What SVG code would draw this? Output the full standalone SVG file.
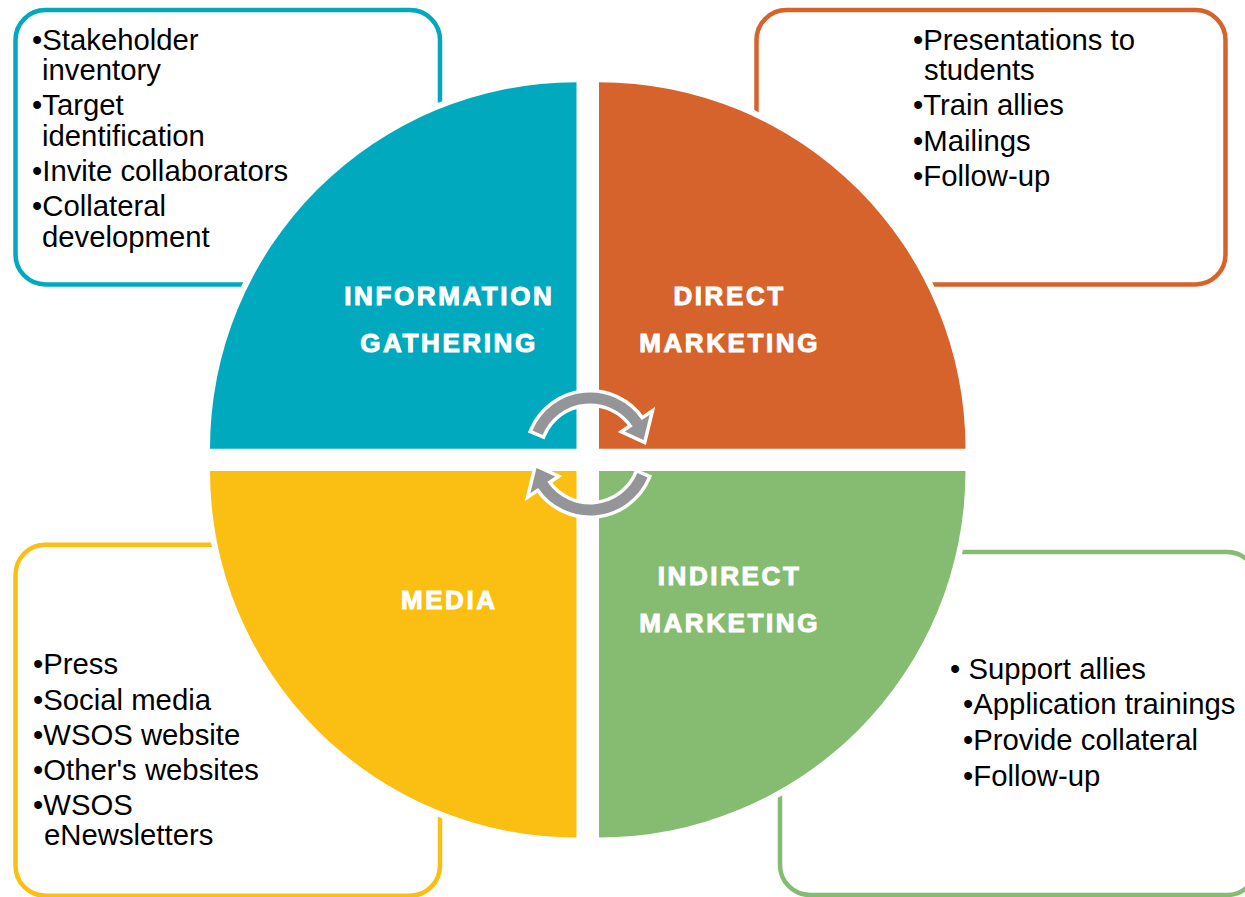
<svg xmlns="http://www.w3.org/2000/svg" width="1245" height="897" viewBox="0 0 1245 897">
<defs>
<style>
.box{fill:#fff;stroke-width:4.5}
.q{stroke:#fff;stroke-width:12;paint-order:stroke}
.t{font-family:"Liberation Sans",Arial,sans-serif;font-size:29.3px;fill:#000}
.lbl{font-family:"Liberation Sans",Arial,sans-serif;font-size:26px;font-weight:bold;fill:#fff;letter-spacing:2.6px;text-anchor:middle;stroke:#fff;stroke-width:1}
.arr{fill:#939598;stroke:#fff;stroke-width:7;paint-order:stroke;stroke-linejoin:miter}
</style>
<path id="arrow" d="M 542.59 434.88 L 532.47 430.58 A 62.5 62.5 0 0 1 641.82 420.05 L 649.69 414.74 L 643.5 440 L 624.82 431.51 L 632.70 426.20 A 51.5 51.5 0 0 0 542.59 434.88 Z"/>
</defs>
<rect width="1245" height="897" fill="#fff"/>
<g id="box-info">
<rect class="box" x="15.5" y="10" width="424.5" height="274.5" rx="30" stroke="#00A9BE"/>
<text class="t" x="32" y="49.5">•Stakeholder</text>
<text class="t" x="42" y="80">inventory</text>
<text class="t" x="32" y="115">•Target</text>
<text class="t" x="42" y="145.5">identification</text>
<text class="t" x="32" y="180.5">•Invite collaborators</text>
<text class="t" x="32" y="215.5">•Collateral</text>
<text class="t" x="42" y="246.5">development</text>
</g>
<g id="box-direct">
<rect class="box" x="756.5" y="10" width="469" height="274.5" rx="30" stroke="#D6632B"/>
<text class="t" x="913" y="49.5">•Presentations to</text>
<text class="t" x="924" y="80">students</text>
<text class="t" x="913" y="115">•Train allies</text>
<text class="t" x="913" y="150.5">•Mailings</text>
<text class="t" x="913" y="185.5">•Follow-up</text>
</g>
<g id="box-media">
<rect class="box" x="15.5" y="544.7" width="424.5" height="351" rx="30" stroke="#FBBE13"/>
<text class="t" x="33" y="673.5">•Press</text>
<text class="t" x="33" y="709.5">•Social media</text>
<text class="t" x="33" y="744.5">•WSOS website</text>
<text class="t" x="33" y="779.5">•Other's websites</text>
<text class="t" x="33" y="815">•WSOS</text>
<text class="t" x="44" y="845">eNewsletters</text>
</g>
<g id="box-indirect">
<rect class="box" x="780" y="552" width="477" height="343" rx="30" stroke="#86BC72"/>
<text class="t" x="950" y="678.5">• Support allies</text>
<text class="t" x="963" y="714">•Application trainings</text>
<text class="t" x="963" y="750">•Provide collateral</text>
<text class="t" x="963" y="786">•Follow-up</text>
</g>
<g id="q-info">
<path class="q" fill="#00A9BE" d="M 576.5 448.7 L 210 448.7 A 366.5 366.5 0 0 1 576.5 82.2 Z"/>
<text class="lbl" x="449.3" y="305">INFORMATION</text>
<text class="lbl" x="449" y="351.7">GATHERING</text>
</g>
<g id="q-direct">
<path class="q" fill="#D6632B" d="M 599 448.7 L 599 82.2 A 366.5 366.5 0 0 1 965.5 448.7 Z"/>
<text class="lbl" x="729.6" y="305">DIRECT</text>
<text class="lbl" x="729.6" y="351.7">MARKETING</text>
</g>
<g id="q-media">
<path class="q" fill="#FBBE13" d="M 576.5 471 L 576.5 837.5 A 366.5 366.5 0 0 1 210 471 Z"/>
<text class="lbl" x="449.3" y="609">MEDIA</text>
</g>
<g id="q-indirect">
<path class="q" fill="#86BC72" d="M 599 471 L 965.5 471 A 366.5 366.5 0 0 1 599 837.5 Z"/>
<text class="lbl" x="729.6" y="585">INDIRECT</text>
<text class="lbl" x="729.6" y="632">MARKETING</text>
</g>
<g id="connectors">
<use href="#arrow" class="arr"/>
<use href="#arrow" class="arr" transform="rotate(180 590 454)"/>
</g>
</svg>
